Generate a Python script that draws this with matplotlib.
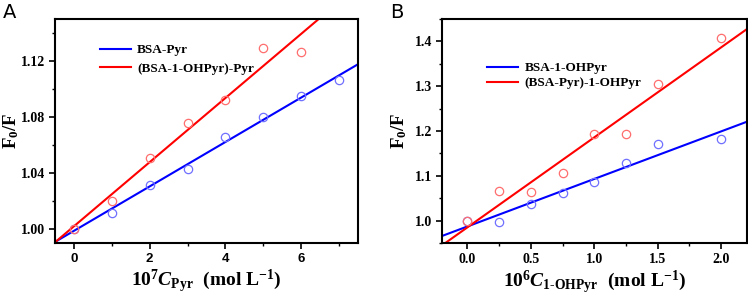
import numpy as np
import matplotlib
matplotlib.use("Agg")
import matplotlib.pyplot as plt
from matplotlib.ticker import MultipleLocator, FormatStrFormatter

# panel A data
conc_pyr = [0, 1, 2, 3, 4, 5, 6, 7]
bsa_pyr = [1.000, 1.0118, 1.0316, 1.0429, 1.0655, 1.0799, 1.0952, 1.1067]
conc_pyr_red = [0, 1, 2, 3, 4, 5, 6]
bsa_ohpyr_pyr = [1.000, 1.020, 1.0504, 1.0756, 1.0924, 1.1293, 1.1267]

# panel B data
conc_ohpyr = [0, 0.25, 0.5, 0.75, 1.0, 1.25, 1.5, 2.0]
bsa_ohpyr = [1.000, 0.997, 1.0376, 1.0626, 1.086, 1.129, 1.170, 1.183]
bsa_pyr_ohpyr = [1.000, 1.0663, 1.0634, 1.1068, 1.193, 1.194, 1.305, 1.4074]

plt.rcParams['font.family'] = ['Liberation Serif', 'DejaVu Sans']
plt.rcParams['font.weight'] = 'bold'
plt.rcParams['mathtext.fontset'] = 'custom'
plt.rcParams['mathtext.rm'] = 'Liberation Serif:bold'
plt.rcParams['mathtext.it'] = 'Liberation Serif:italic:bold'
plt.rcParams['mathtext.bf'] = 'Liberation Serif:bold'

BLUE = '#0000ff'
RED = '#ff0000'
BLUE_M = '#7070ff'
RED_M = '#ff6e6e'

fig = plt.figure(figsize=(7.48, 2.95), dpi=100)
axA = fig.add_axes([0.0735, 0.176, 0.405, 0.76])
axB = fig.add_axes([0.591, 0.176, 0.407, 0.76])


def panel(ax, xs_list, ys_list, labels, xlim, ylim, lab_x):
    for xs, ys, c, mc, lab in zip(xs_list, ys_list, [BLUE, RED], [BLUE_M, RED_M], labels):
        k, b = np.polyfit(xs, ys, 1)
        xx = np.array(xlim)
        ax.plot(xx, k * xx + b, color=c, lw=1.5, label=lab)
        ax.plot(xs, ys, 'o', ms=6, mfc='none', mec=mc, mew=0.9)
    ax.set_xlim(xlim)
    ax.set_ylim(ylim)
    for s in ax.spines.values():
        s.set_linewidth(1.5)
    ax.tick_params(which='major', direction='out', length=4, width=1.2, labelsize=10, pad=3)
    ax.tick_params(which='minor', direction='out', length=2.2, width=1)
    ax.tick_params(top=False, right=False, which='both')
    ax.set_ylabel(r'$\mathrm{F_{0}/F}$', fontsize=13.5)
    ax.yaxis.set_label_coords(lab_x, 0.5)


panel(axA, [conc_pyr, conc_pyr_red], [bsa_pyr, bsa_ohpyr_pyr],
      ['BSA-Pyr', '(BSA-1-OHPyr)-Pyr'], (-0.5, 7.5), (0.99, 1.15), -0.112)
axA.xaxis.set_major_locator(MultipleLocator(2))
axA.xaxis.set_minor_locator(MultipleLocator(1))
axA.yaxis.set_major_locator(MultipleLocator(0.04))
axA.yaxis.set_minor_locator(MultipleLocator(0.02))
axA.yaxis.set_major_formatter(FormatStrFormatter('%.2f'))
axA.tick_params(axis='x', labelfontfamily='Liberation Sans', labelsize=9.5)
axA.set_xlabel(r'$\mathrm{10^{7}}\mathit{C}_{\mathrm{Pyr}}\ \ (\mathrm{mol\ L^{-1}})$', fontsize=14, labelpad=2)
axA.legend(loc='upper left', bbox_to_anchor=(0.11, 0.94), frameon=False, fontsize=9.5,
           handlelength=2.3, handletextpad=0.5, labelspacing=0.45)

panel(axB, [conc_ohpyr, conc_ohpyr], [bsa_ohpyr, bsa_pyr_ohpyr],
      ['BSA-1-OHPyr', '(BSA-Pyr)-1-OHPyr'], (-0.2, 2.2), (0.95, 1.45), -0.11)
axB.xaxis.set_major_locator(MultipleLocator(0.5))
axB.xaxis.set_minor_locator(MultipleLocator(0.25))
axB.yaxis.set_major_locator(MultipleLocator(0.1))
axB.yaxis.set_minor_locator(MultipleLocator(0.05))
axB.xaxis.set_major_formatter(FormatStrFormatter('%.1f'))
axB.yaxis.set_major_formatter(FormatStrFormatter('%.1f'))
axB.set_xlabel(r'$\mathrm{10^{6}}\mathit{C}_{\mathrm{1\text{-}OHPyr}}\ \ (\mathrm{mol\ L^{-1}})$', fontsize=14, labelpad=2)
axB.legend(loc='upper left', bbox_to_anchor=(0.11, 0.86), frameon=False, fontsize=9.5,
           handlelength=2.3, handletextpad=0.5, labelspacing=0.2)

fig.text(0.004, 0.99, 'A', fontsize=14, family='DejaVu Sans', weight='normal', va='top')
fig.text(0.522, 0.99, 'B', fontsize=14, family='DejaVu Sans', weight='normal', va='top')

fig.savefig('out.png', dpi=100)
